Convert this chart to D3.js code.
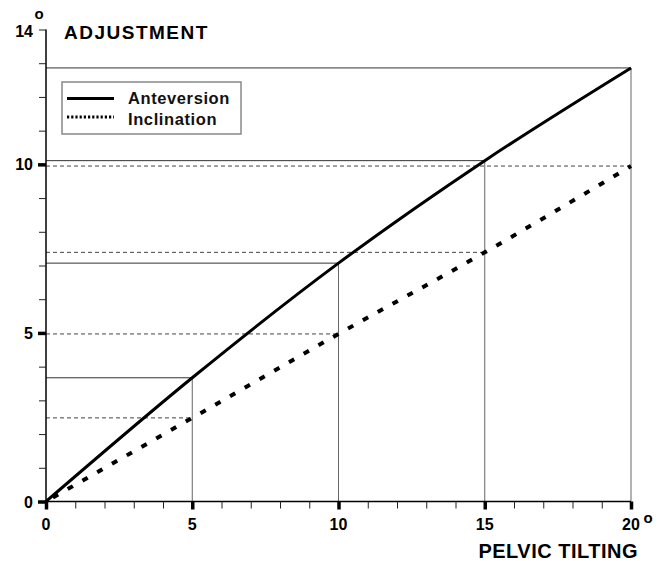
<!DOCTYPE html>
<html>
<head>
<meta charset="utf-8">
<script src="https://cdn.jsdelivr.net/npm/d3@7"></script>
<style>
  html, body { margin: 0; padding: 0; background: #fff; }
  svg { display: block; font-family: "Liberation Sans", Arial, sans-serif; }
</style>
</head>
<body>
<svg id="chart" width="662" height="561"></svg>
<script>
// Pelvic tilting (deg) versus the resulting adjustment (deg)
const tilting = [0, 5, 10, 15, 20];
const anteversion = [0, 3.67, 7.07, 10.11, 12.86];
const inclination = [0, 2.48, 4.97, 7.39, 9.95];
const xTickLabels = [0, 5, 10, 15, 20];
const yTickLabels = [0, 5, 10, 14];
const seriesNames = ["Anteversion", "Inclination"];

const svg = d3.select("#chart");
const x = d3.scaleLinear().domain([0, 20]).range([46, 631]);
const y = d3.scaleLinear().domain([0, 14]).range([501.5, 29.5]);

const anteData = tilting.map((t, i) => ({ t, v: anteversion[i] }));
const inclData = tilting.map((t, i) => ({ t, v: inclination[i] }));

// Guide lines from the axes to each computed point
const guides = svg.append("g");
anteData.slice(1).forEach(d => {
  guides.append("line")
    .attr("x1", x(0)).attr("x2", x(d.t))
    .attr("y1", y(d.v)).attr("y2", y(d.v))
    .attr("stroke", "#333").attr("stroke-width", 1);
  guides.append("line")
    .attr("x1", x(d.t)).attr("x2", x(d.t))
    .attr("y1", y(0)).attr("y2", y(d.v))
    .attr("stroke", "#666").attr("stroke-width", 1);
});
inclData.slice(1).forEach(d => {
  guides.append("line")
    .attr("x1", x(0)).attr("x2", x(d.t))
    .attr("y1", y(d.v)).attr("y2", y(d.v))
    .attr("stroke", "#444").attr("stroke-width", 1)
    .attr("stroke-dasharray", "4,3");
});

// Axes
const xAxis = svg.append("g").attr("transform", `translate(0,${y(0)})`)
  .call(d3.axisBottom(x).tickValues(d3.range(0, 21)).tickSize(7).tickFormat(""));
xAxis.select(".domain").attr("stroke", "#000").attr("stroke-width", 1.5).attr("d", `M${x(0)},0H${x(20)}`);
xAxis.selectAll(".tick line").attr("stroke", "#222").attr("stroke-width", 1);
xAxis.selectAll(".tick").filter(d => d % 5 === 0).select("line")
  .attr("stroke", "#000").attr("stroke-width", 3.5).attr("y2", 8);

const yAxis = svg.append("g").attr("transform", `translate(${x(0)},0)`)
  .call(d3.axisLeft(y).tickValues(d3.range(0, 15)).tickSize(7).tickFormat(""));
yAxis.select(".domain").attr("stroke", "#000").attr("stroke-width", 1.5).attr("d", `M0,${y(14)}V${y(0)}`);
yAxis.selectAll(".tick line").attr("stroke", "#222").attr("stroke-width", 1);
yAxis.selectAll(".tick").filter(d => d === 0 || d === 5 || d === 10).select("line")
  .attr("stroke", "#000").attr("stroke-width", 3.5).attr("x2", -8);

// Tick labels
svg.append("g").selectAll("text").data(xTickLabels).join("text")
  .attr("x", d => x(d)).attr("y", 530)
  .attr("text-anchor", "middle")
  .attr("font-size", 16).attr("font-weight", "bold")
  .text(d => d);
svg.append("g").selectAll("text").data(yTickLabels).join("text")
  .attr("x", 33).attr("y", d => y(d) + (d === 14 ? 7 : 6))
  .attr("text-anchor", "end")
  .attr("font-size", 16).attr("font-weight", "bold")
  .text(d => d);

// Degree marks
svg.append("text").attr("x", 34.5).attr("y", 18.5)
  .attr("font-size", 15).attr("font-weight", "bold").text("o");
svg.append("text").attr("x", 643.5).attr("y", 522.5)
  .attr("font-size", 15).attr("font-weight", "bold").text("o");

// Axis titles
svg.append("text").attr("x", 64).attr("y", 39)
  .attr("font-size", 19).attr("font-weight", "bold").attr("letter-spacing", 1.5)
  .text("ADJUSTMENT");
svg.append("text").attr("x", 638).attr("y", 558)
  .attr("text-anchor", "end")
  .attr("font-size", 20).attr("font-weight", "bold").attr("letter-spacing", 0.5)
  .text("PELVIC TILTING");

// Curves
const line = d3.line().x(d => x(d.t)).y(d => y(d.v)).curve(d3.curveMonotoneX);
svg.append("path").datum(anteData)
  .attr("d", line).attr("fill", "none")
  .attr("stroke", "#000").attr("stroke-width", 3);
svg.append("path").datum(inclData)
  .attr("d", line).attr("fill", "none")
  .attr("stroke", "#000").attr("stroke-width", 4)
  .attr("stroke-dasharray", "6,11").attr("stroke-dashoffset", -8);

// Legend
const legend = svg.append("g");
legend.append("rect").attr("x", 62).attr("y", 82).attr("width", 179).attr("height", 52)
  .attr("fill", "#fff").attr("stroke", "#888").attr("stroke-width", 1.5);
const legendRows = [
  { name: seriesNames[0], dash: null, w: 3, ly: 98.5, ty: 104 },
  { name: seriesNames[1], dash: "2.2,2", w: 3, ly: 117, ty: 125 }
];
legendRows.forEach(r => {
  legend.append("line").attr("x1", 67).attr("x2", 114).attr("y1", r.ly).attr("y2", r.ly)
    .attr("stroke", "#000").attr("stroke-width", r.w)
    .attr("stroke-dasharray", r.dash);
  legend.append("text").attr("x", 128).attr("y", r.ty)
    .attr("font-size", 16.5).attr("font-weight", "bold").attr("letter-spacing", 0.6)
    .attr("fill", "#111")
    .text(r.name);
});
</script>
</body>
</html>
